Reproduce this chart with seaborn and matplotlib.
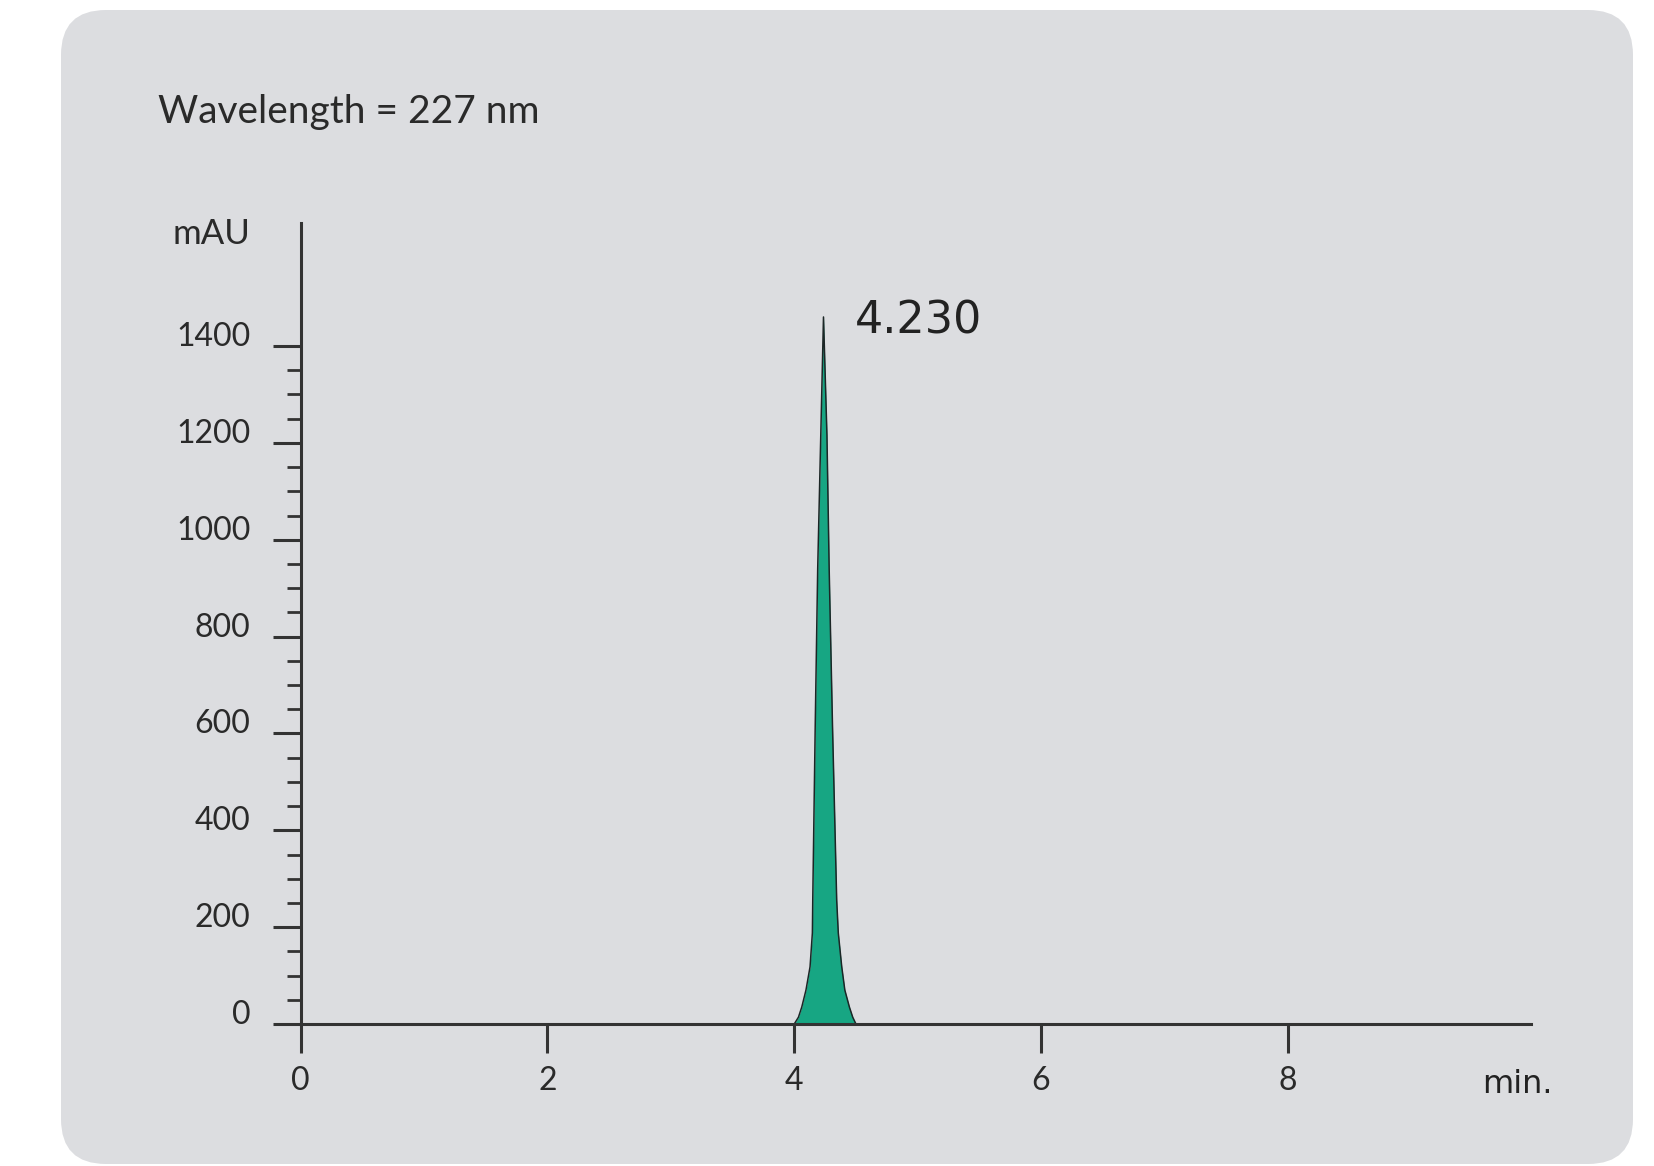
import matplotlib
matplotlib.use("Agg")
import matplotlib.pyplot as plt
from matplotlib.patches import FancyBboxPatch
from matplotlib.ticker import FixedLocator
import numpy as np
import pandas as pd
import seaborn as sns

# chromatogram trace (min, mAU)
time_min = [0.0, 4.00, 4.034, 4.061, 4.095, 4.128, 4.147, 4.150, 4.17, 4.19, 4.215, 4.237,
            4.265, 4.283, 4.31, 4.344, 4.357, 4.385, 4.41, 4.447, 4.474, 4.50, 9.97]
signal_mau = [0, 0, 14, 35, 70, 118, 188, 256, 616, 940, 1216, 1460,
              1216, 940, 616, 256, 188, 118, 70, 35, 14, 0, 0]

peak_time = 4.237
peak_height = 1460
peak_label = "4.230"

x_ticks = [0, 2, 4, 6, 8]
y_ticks = [0, 200, 400, 600, 800, 1000, 1200, 1400]

title = "Wavelength = 227 nm"
y_unit = "mAU"
x_unit = "min."

panel_color = "#dcdde0"
peak_color = "#17a683"
axis_color = "#333333"

df = pd.DataFrame({"time": time_min, "signal": signal_mau})

sns.set_theme(style="ticks")
plt.rcParams["font.family"] = ["Lato", "DejaVu Sans"]

W, H = 1654, 1166
fig = plt.figure(figsize=(W / 100, H / 100), dpi=100)
fig.patch.set_facecolor("white")

# rounded grey panel behind everything
panel = FancyBboxPatch((0.61, 0.02), 15.72, 11.54,
                       boxstyle="round,pad=0,rounding_size=0.45",
                       transform=fig.dpi_scale_trans,
                       facecolor=panel_color, edgecolor="none", zorder=-10)
fig.add_artist(panel)

ax = fig.add_axes([300.6 / W, (H - 1024) / H, (1531 - 300.6) / W, (1024 - 223) / H])
ax.set_zorder(5)
ax.patch.set_alpha(0)

ax.fill_between(df["time"], df["signal"], 0, color=peak_color, lw=0, zorder=2)
sns.lineplot(data=df, x="time", y="signal", color="#1c2626", lw=1.1, ax=ax, zorder=3)

ax.set_xlim(0, 9.97)
ax.set_ylim(0, 1654)
ax.set_xlabel("")
ax.set_ylabel("")

for side in ["top", "right"]:
    ax.spines[side].set_visible(False)
for side in ["left", "bottom"]:
    ax.spines[side].set_color(axis_color)
    ax.spines[side].set_linewidth(2.2)
    ax.spines[side].set_zorder(4)

ax.xaxis.set_major_locator(FixedLocator(x_ticks))
ax.yaxis.set_major_locator(FixedLocator(y_ticks))
minor = [v for v in np.arange(50, 1400, 50) if v % 200 != 0]
ax.yaxis.set_minor_locator(FixedLocator(minor))
ax.set_xticklabels([str(v) for v in x_ticks])
ax.set_yticklabels([str(v) for v in y_ticks])

ax.tick_params(axis="x", which="major", direction="out", length=21, width=2.2,
               color=axis_color, pad=9, labelsize=23, labelcolor="#2a2a2a")
ax.tick_params(axis="y", which="major", direction="out", length=20, width=2.2,
               color=axis_color, pad=16, labelsize=23, labelcolor="#2a2a2a")
ax.tick_params(axis="y", which="minor", direction="out", length=10, width=2,
               color=axis_color)
ax.tick_params(axis="x", which="minor", length=0)
for lab in ax.get_yticklabels():
    lab.set_verticalalignment("baseline")

ax.annotate(peak_label, xy=(peak_time, peak_height), xytext=(22.3, -12),
            textcoords="offset points", ha="left", va="baseline",
            fontsize=32, family="DejaVu Sans", color="#222222")

fig.text(158 / W, 1 - 123 / H, title, ha="left", va="baseline",
         fontsize=28, color="#2a2a2a")
fig.text(250 / W, 1 - 234 / H, y_unit, ha="right", va="center",
         fontsize=25, color="#2a2a2a")
fig.text(1482 / W, 1 - 1093 / H, x_unit, ha="left", va="baseline",
         fontsize=23, family="DejaVu Sans", color="#222222")

fig.savefig("out.png", dpi=100)
